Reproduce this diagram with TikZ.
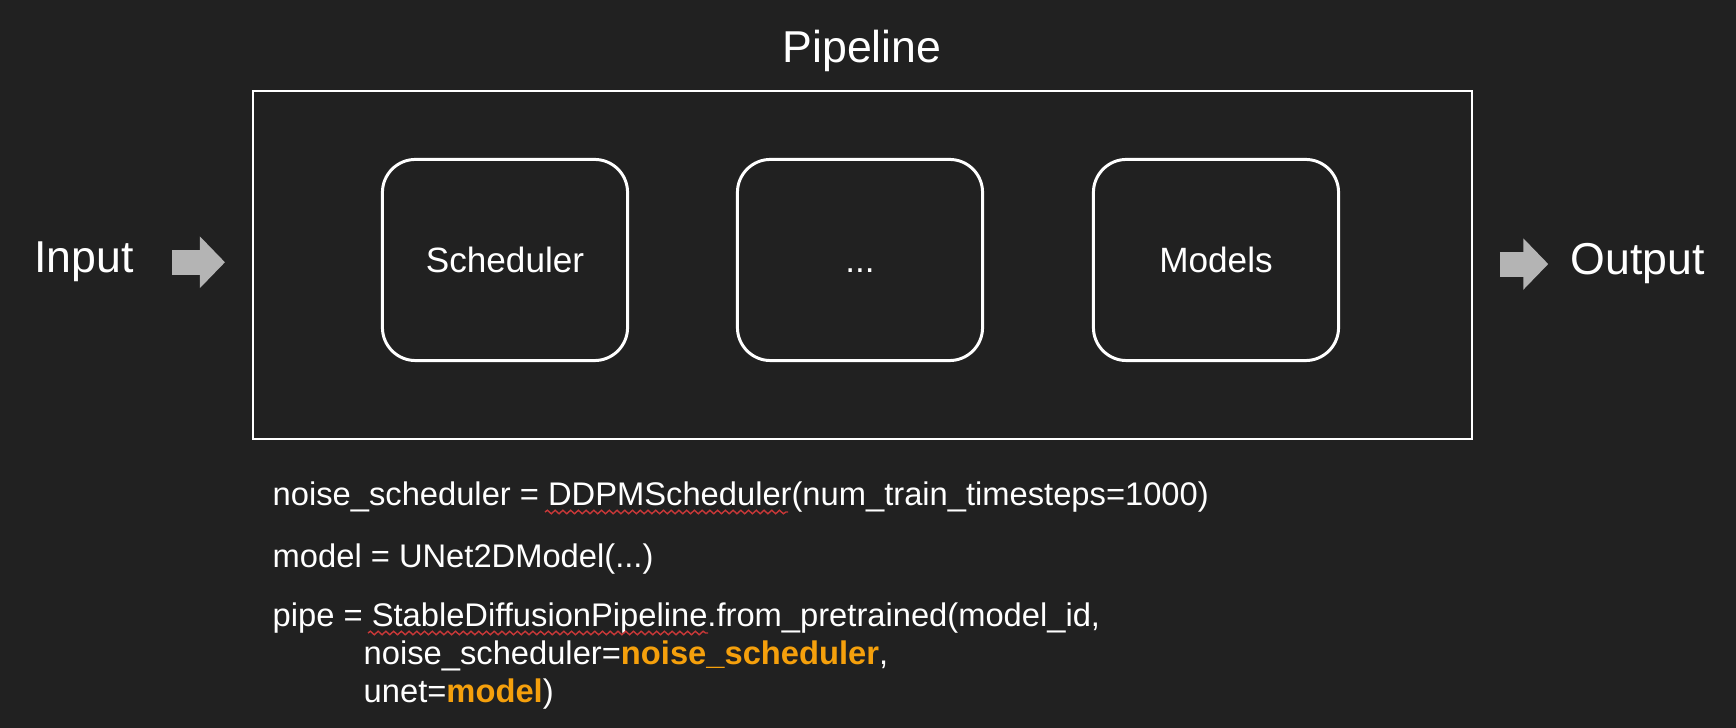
\documentclass[tikz,border=0pt]{standalone}
\usepackage{fontspec}
\setmainfont{Liberation Sans}
\usetikzlibrary{arrows.meta,decorations.pathmorphing}
\definecolor{bg}{HTML}{212121}
\definecolor{fatgray}{HTML}{B4B4B4}
\definecolor{hl}{HTML}{F5A00C}
\definecolor{squiggle}{HTML}{C83838}
\tikzstyle{every node}=[text=white,inner sep=0pt]
\tikzstyle{block}=[draw=white,line width=0.85pt,rounded corners=0.33cm,minimum width=2.45cm,minimum height=2.01cm,text height=7.2pt,text depth=0pt,font=\fontsize{10}{12}\selectfont]
\tikzstyle{code}=[anchor=base west,font=\fontsize{9.3}{11}\selectfont]
\tikzstyle{big}=[anchor=base,font=\fontsize{12.7}{15}\selectfont]
\tikzstyle{fat}=[draw=fatgray,line width=0.25cm,-{Triangle[length=0.25cm,width=0.5cm]}]
\tikzstyle{typo}=[draw=squiggle,line width=0.4pt,decorate,decoration={snake,amplitude=0.5pt,segment length=2.2pt}]

\begin{document}
\begin{tikzpicture}[x=0.01cm,y=-0.01cm]
	\fill[bg] (0,0) rectangle (1736,728);
	\useasboundingbox (0,0) rectangle (1736,728);
	\draw (862,63) node [big] (title) {Pipeline};
	\draw (252,90) node [draw=white, line width=0.6pt, anchor=north west, minimum width=12.18cm, minimum height=3.48cm] (pipe) {};
	\draw (505,260) node [block] (sched) {Scheduler};
	\draw (860,260) node [block] (dots) {...};
	\draw (1216,260) node [block] (models) {Models};
	\draw (84,273) node [big] (inp) {Input};
	\draw (1638,275) node [big] (out) {Output};
	\draw [fat, shorten <=0.38cm, shorten >=0.27cm] (inp.east) -- (inp.east -| pipe.west);
	\draw [fat, shorten <=0.27cm, shorten >=0.22cm] (pipe.east |- out.west) -- (out.west);
	% code under the pipeline
	\draw (272,506) node [code] (l1) {noise\_scheduler = DDPMScheduler(num\_train\_timesteps=1000)};
	\draw (272,568) node [code] (l2) {model = UNet2DModel(...)};
	\draw (272,627) node [code] (l3) {pipe = StableDiffusionPipeline.from\_pretrained(model\_id,};
	\draw (363,665) node [code] (l4) {noise\_scheduler=\textcolor{hl}{\bfseries noise\_scheduler},};
	\draw (363,703) node [code] (l5) {unet=\textcolor{hl}{\bfseries model})};
	\draw [typo] (545,512) -- (788,512);
	\draw [typo] (368,633) -- (708,633);
\end{tikzpicture}
\end{document}
